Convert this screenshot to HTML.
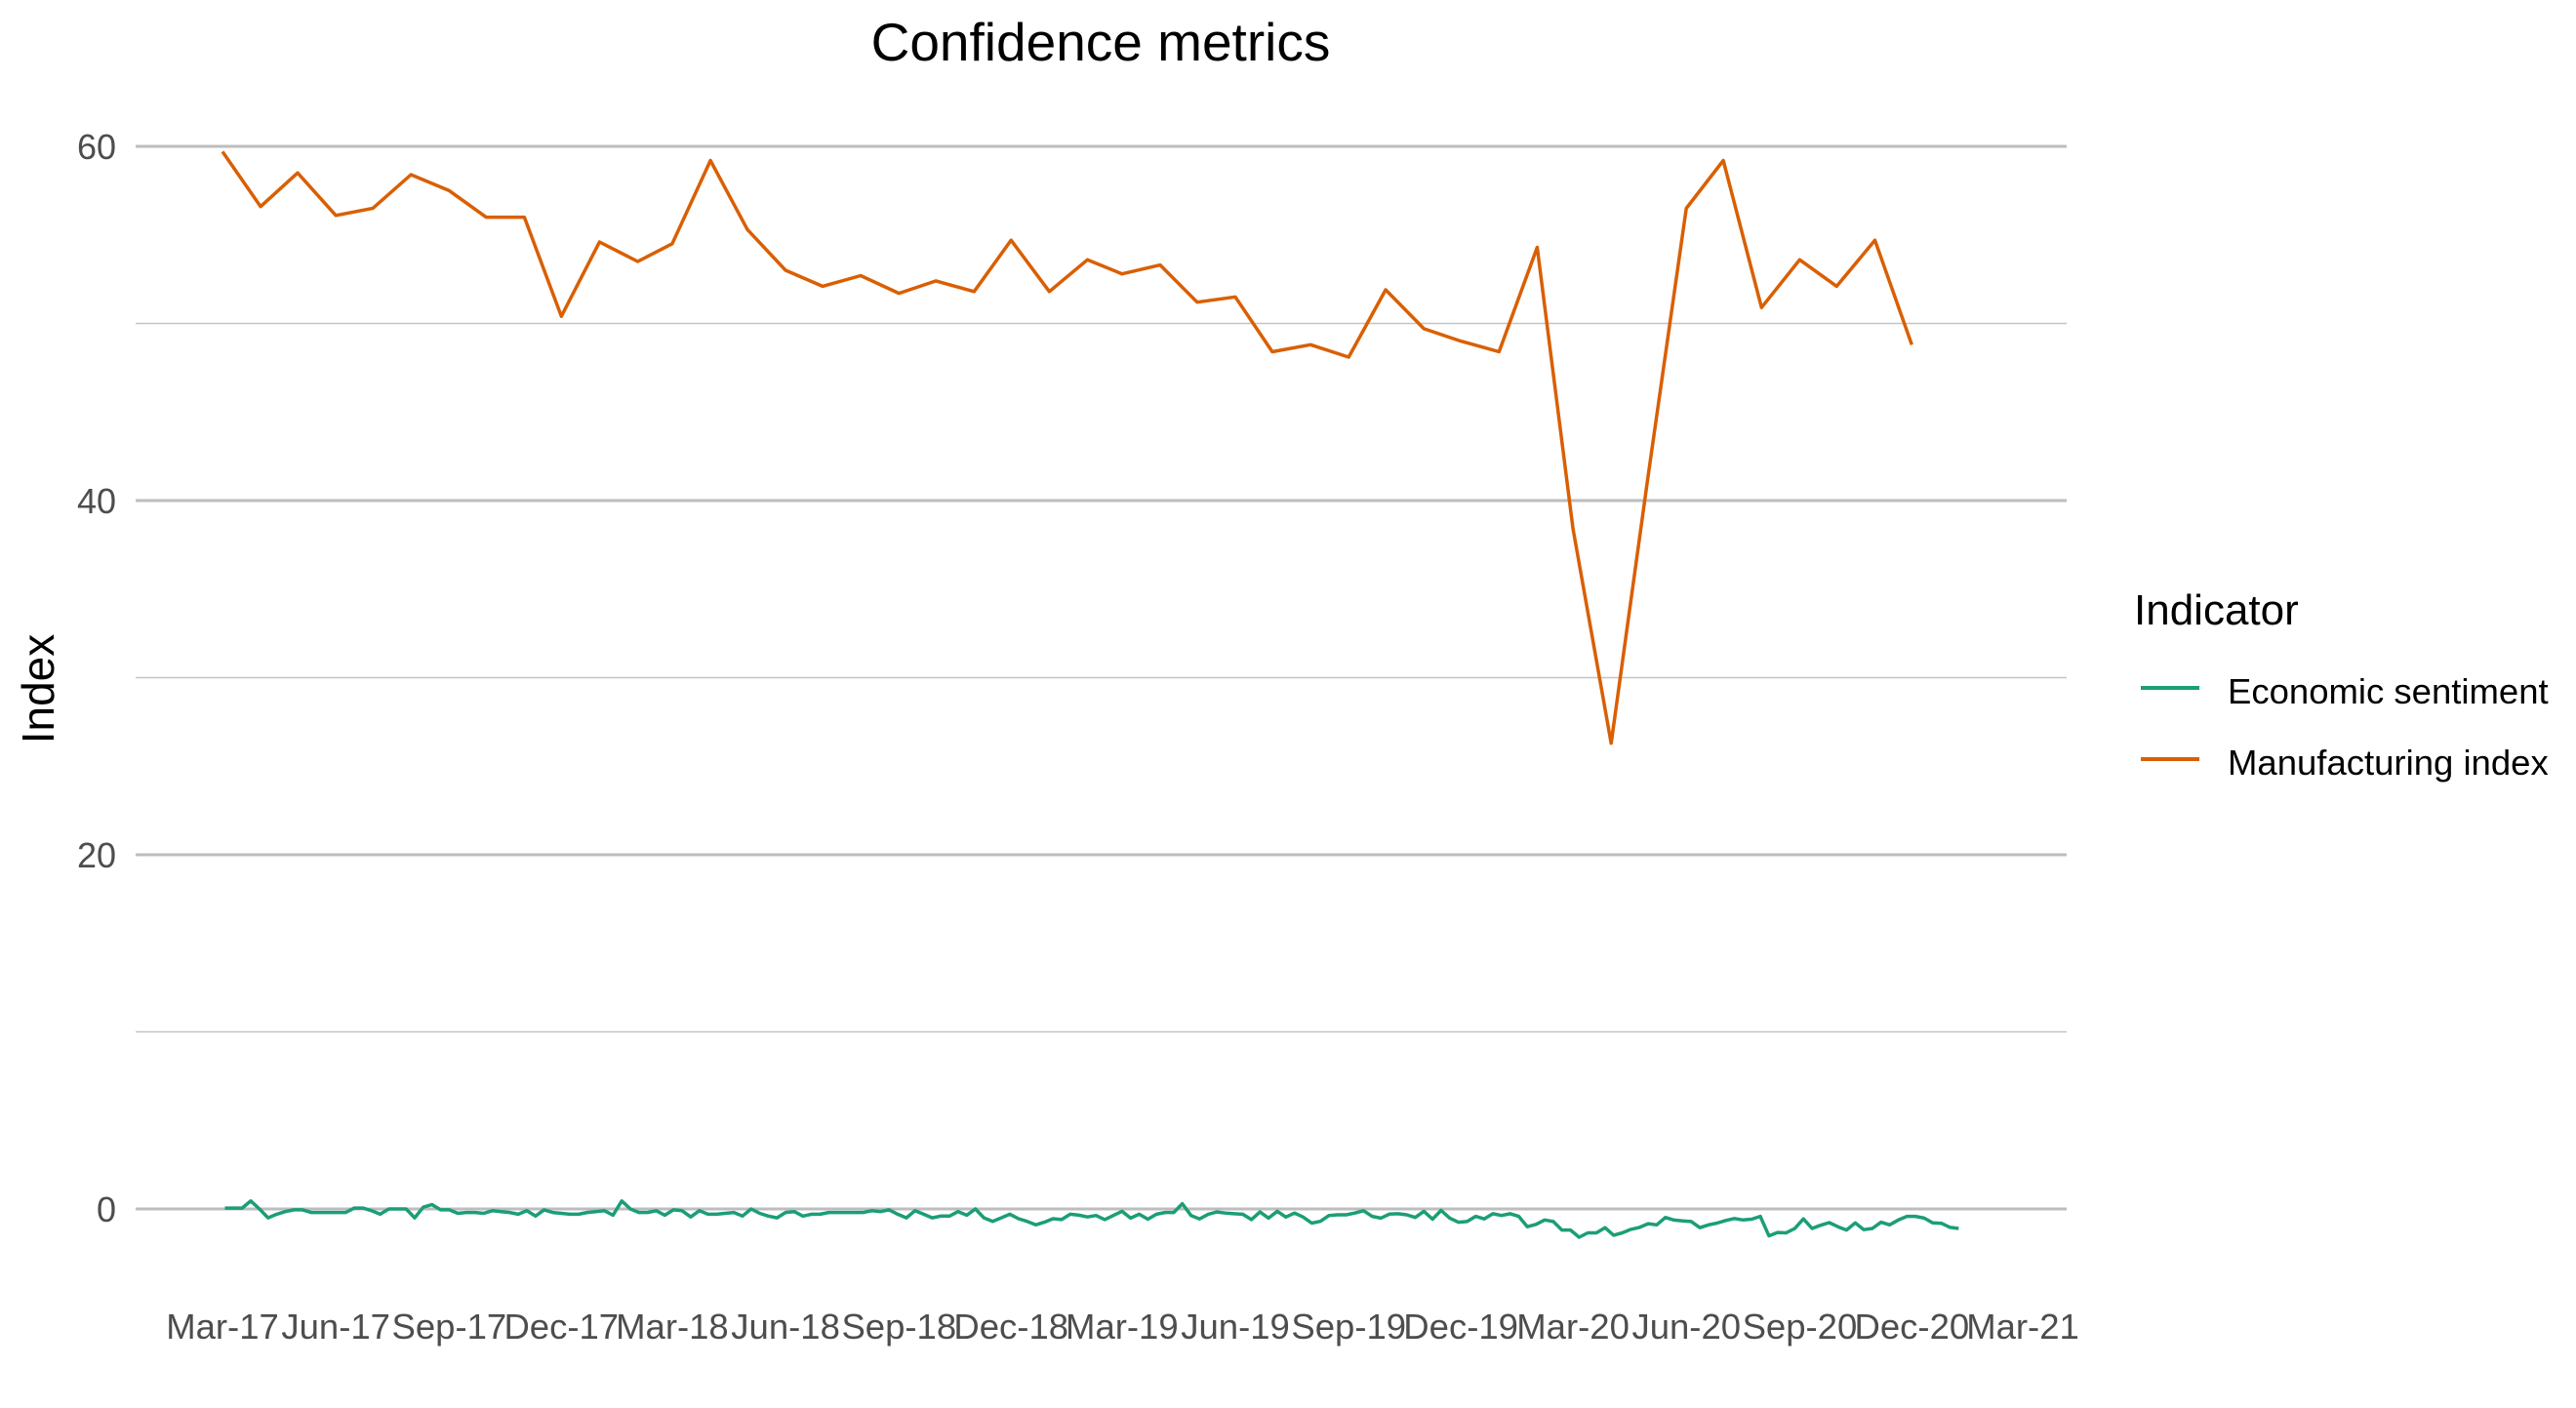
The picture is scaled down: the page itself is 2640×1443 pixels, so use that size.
<!DOCTYPE html>
<html>
<head>
<meta charset="utf-8">
<style>
  html, body { margin: 0; padding: 0; background: #ffffff; }
  svg { display: block; font-family: "Liberation Sans", Arial, sans-serif; }
</style>
</head>
<body>
<svg id="chart" width="2640" height="1443" viewBox="0 0 2640 1443" xmlns="http://www.w3.org/2000/svg">
  <rect x="0" y="0" width="2640" height="1443" fill="#ffffff"/>
  <text x="1128" y="62" font-size="55" text-anchor="middle" fill="#000">Confidence metrics</text>
  <text transform="translate(55,706) rotate(-90)" font-size="46" text-anchor="middle" fill="#000">Index</text>
  <g id="grid"></g>
  <g id="yticks"></g>
  <g id="xticks"></g>
  <g id="series"></g>
  <g>
    <text x="2187" y="640" font-size="44" fill="#000">Indicator</text>
    <g>
      <line x1="2194" y1="705" x2="2254" y2="705" stroke="#1B9E77" stroke-width="4"/>
      <text x="2283" y="721" font-size="36.5" fill="#000">Economic sentiment</text>
    </g>
    <g>
      <line x1="2194" y1="778" x2="2254" y2="778" stroke="#D95F02" stroke-width="4"/>
      <text x="2283" y="794" font-size="36.5" fill="#000">Manufacturing index</text>
    </g>
  </g>
</svg>
<script>
// ---- data ----
const yTicks = [0, 20, 40, 60];
const yMinorTicks = [10, 30, 50];
const xTickDates = ["2017-03-01","2017-06-01","2017-09-01","2017-12-01","2018-03-01","2018-06-01","2018-09-01","2018-12-01","2019-03-01","2019-06-01","2019-09-01","2019-12-01","2020-03-01","2020-06-01","2020-09-01","2020-12-01","2021-03-01"];
const xTickLabels = ["Mar-17","Jun-17","Sep-17","Dec-17","Mar-18","Jun-18","Sep-18","Dec-18","Mar-19","Jun-19","Sep-19","Dec-19","Mar-20","Jun-20","Sep-20","Dec-20","Mar-21"];

const mfgStart = "2017-03-01"; // monthly, first of month
const mfgValues = [59.7,56.6,58.5,56.1,56.5,58.4,57.5,56.0,56.0,50.4,
  54.6,53.5,54.5,59.2,55.3,53.0,52.1,52.7,51.7,52.4,
  51.8,54.7,51.8,53.6,52.8,53.3,51.2,51.5,48.4,48.8,
  48.1,51.9,49.7,49.0,48.4,54.3,38.4,26.3,41.4,56.5,
  59.2,50.9,53.6,52.1,54.7,48.8];

const sentStart = "2017-03-03"; // weekly
const sentValues = [0.05,0.05,0.05,0.45,0.0,-0.5,-0.3,-0.15,-0.05,-0.05,
  -0.2,-0.2,-0.2,-0.2,-0.2,0.05,0.05,-0.1,-0.3,0.0,
  0.0,0.0,-0.5,0.1,0.25,-0.05,-0.05,-0.25,-0.2,-0.2,
  -0.25,-0.1,-0.15,-0.2,-0.3,-0.1,-0.4,-0.05,-0.2,-0.25,
  -0.3,-0.3,-0.2,-0.15,-0.1,-0.35,0.45,0.0,-0.2,-0.2,
  -0.1,-0.35,-0.05,-0.1,-0.45,-0.1,-0.3,-0.3,-0.25,-0.2,
  -0.4,0.0,-0.25,-0.4,-0.5,-0.2,-0.15,-0.4,-0.3,-0.3,
  -0.2,-0.2,-0.2,-0.2,-0.2,-0.1,-0.15,-0.05,-0.3,-0.5,
  -0.1,-0.3,-0.5,-0.4,-0.4,-0.15,-0.35,0.0,-0.5,-0.7,
  -0.5,-0.3,-0.55,-0.7,-0.9,-0.75,-0.55,-0.6,-0.3,-0.35,
  -0.45,-0.37,-0.6,-0.37,-0.13,-0.52,-0.3,-0.58,-0.3,-0.2,
  -0.2,0.3,-0.37,-0.56,-0.3,-0.17,-0.23,-0.27,-0.3,-0.6,
  -0.17,-0.52,-0.13,-0.46,-0.23,-0.46,-0.8,-0.7,-0.37,-0.33,
  -0.33,-0.23,-0.1,-0.42,-0.52,-0.29,-0.27,-0.33,-0.48,-0.13,
  -0.58,-0.08,-0.52,-0.75,-0.71,-0.42,-0.56,-0.27,-0.37,-0.27,
  -0.42,-1.0,-0.87,-0.62,-0.71,-1.19,-1.19,-1.6,-1.35,-1.35,
  -1.06,-1.48,-1.35,-1.15,-1.04,-0.83,-0.9,-0.48,-0.63,-0.67,
  -0.71,-1.06,-0.9,-0.8,-0.65,-0.54,-0.62,-0.58,-0.42,-1.52,
  -1.33,-1.35,-1.1,-0.56,-1.1,-0.92,-0.77,-1.0,-1.19,-0.79,
  -1.17,-1.1,-0.75,-0.9,-0.62,-0.42,-0.42,-0.52,-0.79,-0.81,
  -1.04,-1.1];

// ---- scales ----
const NS = "http://www.w3.org/2000/svg";
const plotLeft = 139, plotRight = 2118;
const day = 86400000;
const t0 = Date.UTC(2017,2,1), t1 = Date.UTC(2021,2,1);
const xPix0 = 228, xPix1 = 2073;
function parseD(s){ const p = s.split("-"); return Date.UTC(+p[0], +p[1]-1, +p[2]); }
function xScale(t){ return xPix0 + (t - t0) / (t1 - t0) * (xPix1 - xPix0); }
function yScale(v){ return 1239 - v * (1239 - 150) / 60; }

const grid = document.getElementById("grid");
yMinorTicks.forEach(v => {
  const l = document.createElementNS(NS, "line");
  l.setAttribute("x1", plotLeft); l.setAttribute("x2", plotRight);
  l.setAttribute("y1", yScale(v)); l.setAttribute("y2", yScale(v));
  l.setAttribute("stroke", "#c4c4c4"); l.setAttribute("stroke-width", "1.5");
  
  
  grid.appendChild(l);
});
yTicks.forEach(v => {
  const l = document.createElementNS(NS, "line");
  l.setAttribute("x1", plotLeft); l.setAttribute("x2", plotRight);
  l.setAttribute("y1", yScale(v)); l.setAttribute("y2", yScale(v));
  l.setAttribute("stroke", "#bdbdbd"); l.setAttribute("stroke-width", "3");
  
  
  grid.appendChild(l);
});

const yt = document.getElementById("yticks");
yTicks.forEach(v => {
  const t = document.createElementNS(NS, "text");
  t.setAttribute("x", 119); t.setAttribute("y", yScale(v) + 13);
  t.setAttribute("text-anchor", "end"); t.setAttribute("font-size", "36");
  t.setAttribute("fill", "#4d4d4d");
  t.textContent = v;
  
  
  yt.appendChild(t);
});

const xt = document.getElementById("xticks");
xTickDates.forEach((d, i) => {
  const t = document.createElementNS(NS, "text");
  t.setAttribute("x", xScale(parseD(d))); t.setAttribute("y", 1372);
  t.setAttribute("text-anchor", "middle"); t.setAttribute("font-size", "36.5");
  t.setAttribute("fill", "#4d4d4d");
  t.textContent = xTickLabels[i];
  
  
  xt.appendChild(t);
});

const series = document.getElementById("series");
// economic sentiment (weekly)
{
  const s0 = parseD(sentStart);
  const pts = sentValues.map((v, i) => xScale(s0 + i * 7 * day).toFixed(1) + "," + yScale(v).toFixed(1)).join(" ");
  const pl = document.createElementNS(NS, "polyline");
  pl.setAttribute("points", pts); pl.setAttribute("fill", "none");
  pl.setAttribute("stroke", "#1B9E77"); pl.setAttribute("stroke-width", "3.5");
  pl.setAttribute("stroke-linejoin", "round");
  
  
  series.appendChild(pl);
}
// manufacturing index (monthly)
{
  const p = mfgStart.split("-");
  const y0 = +p[0], m0 = +p[1] - 1;
  const pts = mfgValues.map((v, i) => xScale(Date.UTC(y0, m0 + i, 1)).toFixed(1) + "," + yScale(v).toFixed(1)).join(" ");
  const pl = document.createElementNS(NS, "polyline");
  pl.setAttribute("points", pts); pl.setAttribute("fill", "none");
  pl.setAttribute("stroke", "#D95F02"); pl.setAttribute("stroke-width", "3.5");
  pl.setAttribute("stroke-linejoin", "round");
  
  
  series.appendChild(pl);
}
</script>
</body>
</html>
